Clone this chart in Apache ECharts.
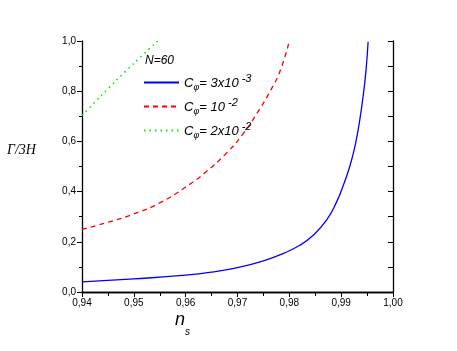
<!DOCTYPE html>
<html><head><meta charset="utf-8">
<script src="https://cdn.jsdelivr.net/npm/echarts@6/dist/echarts.min.js"></script>
<style>html,body{margin:0;padding:0;background:#fff}#c{width:457px;height:351px}</style>
</head><body><div id="c"></div>
<script>
// Data
const blueX = [0.940, 0.950, 0.960, 0.965, 0.970, 0.975, 0.979, 0.982, 0.9846, 0.9872, 0.9891, 0.9904, 0.9917, 0.9927, 0.9935, 0.9943, 0.9948, 0.9952];
const blueY = [0.040, 0.052, 0.067, 0.079, 0.097, 0.124, 0.155, 0.186, 0.226, 0.287, 0.358, 0.424, 0.503, 0.584, 0.674, 0.790, 0.885, 0.997];
const redX  = [0.940, 0.945, 0.950, 0.955, 0.960, 0.964, 0.968, 0.971, 0.9737, 0.9763, 0.9782, 0.980];
const redY  = [0.250, 0.278, 0.311, 0.355, 0.418, 0.480, 0.556, 0.628, 0.710, 0.800, 0.880, 1.000];
const greenX = [0.940, 0.9435, 0.9467, 0.950, 0.9546];
const greenY = [0.704, 0.778, 0.845, 0.911, 1.000];
const seriesNames = ['c1', 'c2', 'c3'];
const legendLabels = {
  c1: '{c|C}{s|φ}{t|= 3x10}{p| -3}',
  c2: '{c|C}{s|φ}{t|= 10}{p| -2}',
  c3: '{c|C}{s|φ}{t|= 2x10}{p| -2}'
};

const pairs = (xs, ys) => xs.map((x, i) => [x, ys[i]]);
const chart = echarts.init(document.getElementById('c'));
const axisLine = {lineStyle: {color: '#000', width: 1.3}};
const font = 'Liberation Sans, Arial, sans-serif';
chart.setOption({
  animation: false,
  grid: {left: 82, right: 64, top: 41, bottom: 59},
  xAxis: [{
    type: 'value', min: 0.94, max: 1.0, interval: 0.01,
    axisLine: axisLine,
    axisTick: {show: true, inside: false, length: 5, lineStyle: {color: '#000'}},
    minorTick: {show: true, splitNumber: 2, length: 3, lineStyle: {color: '#000'}},
    splitLine: {show: false},
    axisLabel: {color: '#000', fontSize: 10, fontFamily: font, margin: 6,
      formatter: v => v.toFixed(2).replace('.', ',')}
  }, {
    type: 'value', position: 'top', min: 0.94, max: 1.0, interval: 0.01,
    axisLine: axisLine,
    axisTick: {show: true, inside: true, length: 4, lineStyle: {color: '#000'}},
    minorTick: {show: true, splitNumber: 2, length: 4, lineStyle: {color: '#000'}},
    splitLine: {show: false}, axisLabel: {show: false}
  }],
  yAxis: [{
    type: 'value', min: 0, max: 1, interval: 0.2,
    axisLine: axisLine,
    axisTick: {show: true, inside: false, length: 5, lineStyle: {color: '#000'}},
    minorTick: {show: true, splitNumber: 2, length: 3, lineStyle: {color: '#000'}},
    splitLine: {show: false},
    axisLabel: {color: '#000', fontSize: 10, fontFamily: font, margin: 6,
      formatter: v => v.toFixed(1).replace('.', ',')}
  }, {
    type: 'value', position: 'right', min: 0, max: 1, interval: 0.2,
    axisLine: axisLine,
    axisTick: {show: true, inside: true, length: 5, lineStyle: {color: '#000'}},
    minorTick: {show: true, splitNumber: 2, length: 5, lineStyle: {color: '#000'}},
    splitLine: {show: false}, axisLabel: {show: false}
  }],
  legend: {
    orient: 'vertical', left: 143, top: 73, padding: 0, itemWidth: 35, itemHeight: 14, itemGap: 5,
    itemStyle: {opacity: 0},
    data: seriesNames,
    formatter: n => legendLabels[n],
    textStyle: {
      rich: {
        c: {fontSize: 13, fontStyle: 'italic', fontFamily: font, color: '#000', padding: [2, 0, 0, 0]},
        s: {fontSize: 9, fontStyle: 'italic', fontFamily: font, color: '#000', padding: [10, 0, 0, 0]},
        t: {fontSize: 13, fontStyle: 'italic', fontFamily: font, color: '#000', padding: [2, 0, 0, 0]},
        p: {fontSize: 11, fontStyle: 'italic', fontFamily: font, color: '#000', padding: [0, 0, 8, 0]}
      }
    }
  },
  graphic: [
    {type: 'text', left: 145, top: 55, style: {text: 'N=60', font: 'italic 12px Liberation Sans, Arial', fill: '#000'}},
    {type: 'text', left: 7, top: 143, style: {text: 'Γ/3H', font: 'italic 14px Liberation Serif, Times New Roman, serif', fill: '#000'}},
    {type: 'text', left: 175, top: 311, style: {text: 'n', font: 'italic 18px Liberation Sans, Arial', fill: '#000'}},
    {type: 'text', left: 185, top: 327, style: {text: 's', font: 'italic 10px Liberation Sans, Arial', fill: '#000'}}
  ],
  series: [
    {name: 'c1', type: 'line', data: pairs(blueX, blueY), smooth: 0.5, symbol: 'none',
      lineStyle: {color: '#0000ff', width: 1.3}, itemStyle: {color: '#0000ff'}},
    {name: 'c2', type: 'line', data: pairs(redX, redY), smooth: 0.5, symbol: 'none',
      lineStyle: {color: '#ff0000', width: 1.3, type: [5, 4]}, itemStyle: {color: '#ff0000'}},
    {name: 'c3', type: 'line', data: pairs(greenX, greenY), smooth: 0.3, symbol: 'none',
      lineStyle: {color: '#00ee00', width: 1.6, type: [1.5, 4]}, itemStyle: {color: '#00ee00'}}
  ]
});
</script></body></html>
